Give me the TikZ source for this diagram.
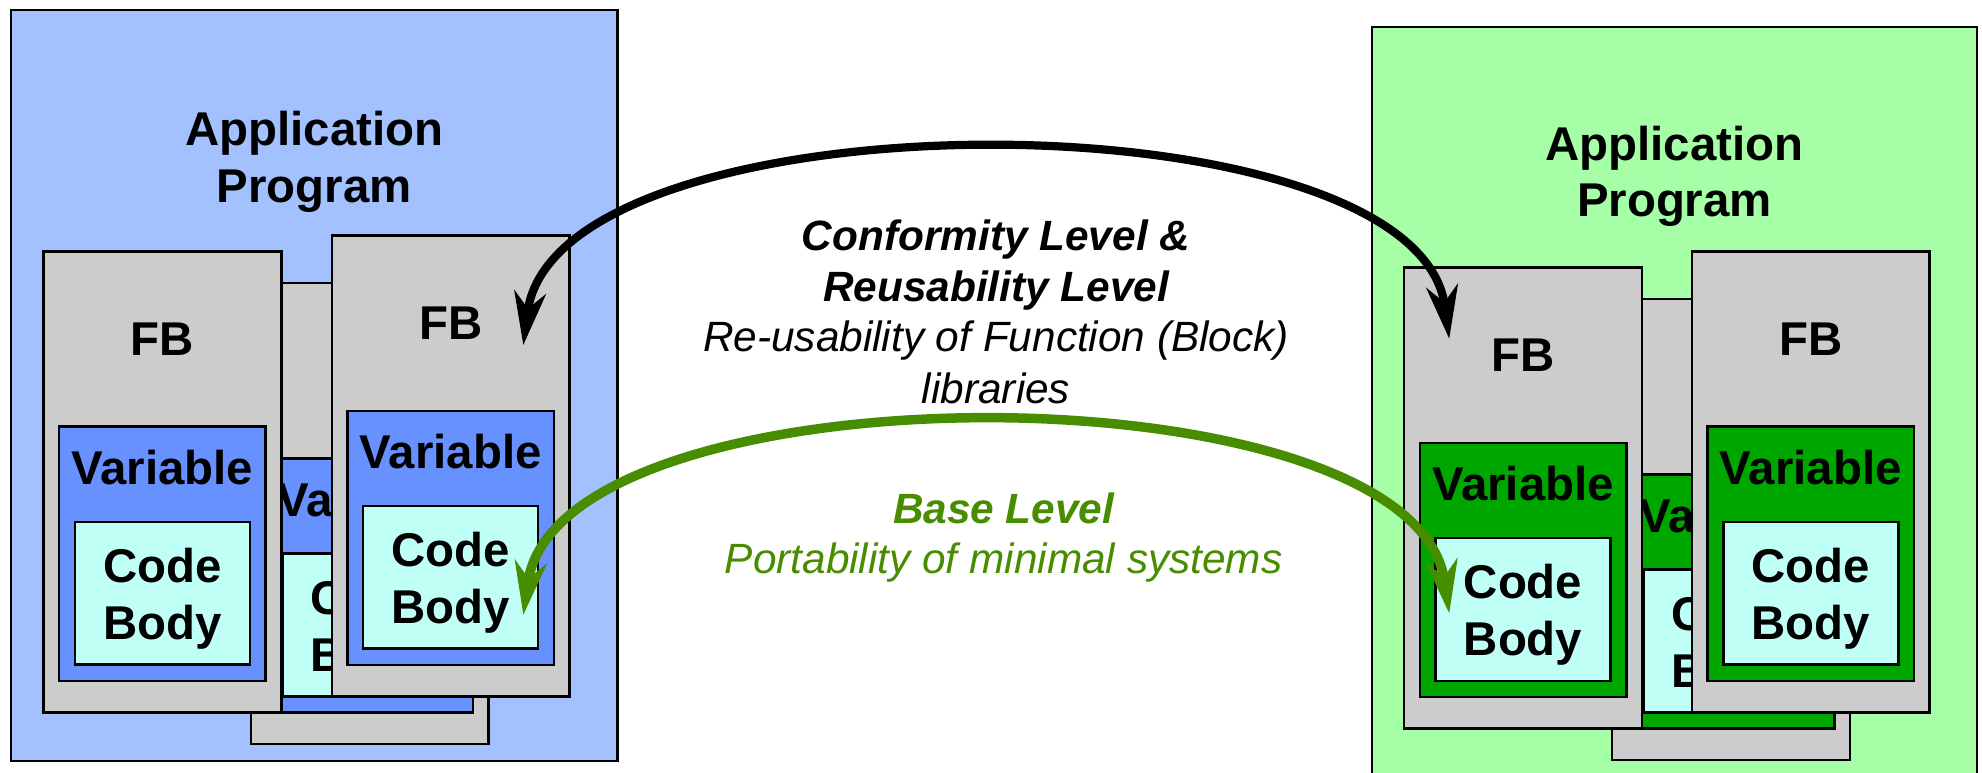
\documentclass[tikz,border=0pt]{standalone}
\usepackage{fontspec}
\setmainfont{Liberation Sans}
\usetikzlibrary{arrows.meta,calc}
\definecolor{bgblue}{RGB}{163,192,255}
\definecolor{varblue}{RGB}{102,145,255}
\definecolor{codecyan}{RGB}{192,255,246}
\definecolor{fbgray}{RGB}{204,204,204}
\definecolor{bggreen}{RGB}{166,255,166}
\definecolor{vargreen}{RGB}{0,166,0}
\definecolor{arrowgreen}{RGB}{72,140,0}
\tikzset{
  box/.style={draw=black, line width=2pt, inner sep=0pt, outer sep=0pt, anchor=north west},
  fbbox/.style={box, fill=fbgray, minimum width=188pt, minimum height=364.6pt},
  varbox/.style={box, minimum width=163.4pt, minimum height=201pt},
  codebox/.style={box, fill=codecyan, minimum width=138.4pt, minimum height=112.9pt},
  appbox/.style={draw=black, line width=1.8pt, inner sep=0pt, outer sep=0pt, anchor=north west},
  biglabel/.style={font=\bfseries\fontsize{37.5}{45}\selectfont, align=center, inner sep=0pt, anchor=base},
  midbold/.style={font=\bfseries\itshape\fontsize{33.5}{40.6}\selectfont, align=center, inner sep=0pt, anchor=base},
  midtext/.style={font=\itshape\fontsize{33.5}{40.6}\selectfont, align=center, inner sep=0pt, anchor=base},
  levelarrow/.style={line width=#1, {Stealth[length=42pt,width=25pt,inset=13pt]}-{Stealth[length=42pt,width=25pt,inset=13pt]}},
}
% boxes of one FB module: name, x, y, variable colour
\newcommand\fbboxes[4]{%
  \node[fbbox] (#1) at (#2,#3) {};
  \node[varbox, fill=#4] (#1v) at (#2+12.3,#3+138.6) {};
  \node[codebox] (#1c) at (#2+24.8,#3+213.9) {};
}
% labels of a fully visible FB module
\newcommand\fblabels[3]{%
  \node[biglabel] (#1t) at (#2+94,#3+82) {FB};
  \node[biglabel] (#1vt) at (#2+94,#3+184.3) {Variable};
  \node[biglabel] (#1ct) at (#2+94,#3+306.9) {Code\\Body};
}
% visible fragments of the labels of a hidden module
\newcommand\fbpartial[3]{%
  \node[biglabel, anchor=base west] (#1vt) at (#2+21.04,#3+184.3) {Va};
  \node[biglabel, anchor=base west] (#1ct) at (#2+47.1,#3+261.9) {C};
  \node[biglabel, anchor=base west] (#1bt) at (#2+47.1,#3+306.9) {B};
}
\begin{document}
\begin{tikzpicture}[x=1pt,y=-1pt]
\useasboundingbox (0,0) rectangle (1568,611.5);
\clip (0,0) rectangle (1568,611.5);
\fill[white] (0,0) rectangle (1568,611.5);
% left application program
\node[appbox, fill=bgblue, minimum width=479.8pt, minimum height=594.2pt] (appL) at (8.7,7.8) {};
\node[biglabel] (appLt) at (248.6,160) {Application\\Program};
\fbboxes{lm}{198.6}{224}{varblue}
\fbpartial{lm}{198.6}{224}
\fbboxes{ll}{34.5}{199}{varblue}
\fblabels{ll}{34.5}{199}
\fbboxes{lr}{262.5}{186.4}{varblue}
\fblabels{lr}{262.5}{186.4}
% right application program
\node[appbox, fill=bggreen, minimum width=478.7pt, minimum height=620pt] (appR) at (1085.3,21.5) {};
\node[biglabel] (appRt) at (1324.7,171.6) {Application\\Program};
\fbboxes{rm}{1275.4}{236.7}{vargreen}
\fbpartial{rm}{1275.4}{236.7}
\fbboxes{rl}{1110.9}{211.8}{vargreen}
\fblabels{rl}{1110.9}{211.8}
\fbboxes{rr}{1338.6}{199}{vargreen}
\fblabels{rr}{1338.6}{199}
% arrows
\coordinate (bL) at (414,273);
\coordinate (bR) at (1146.5,268);
\coordinate (gL) at (414,486.5);
\coordinate (gR) at (1146.5,485.3);
\draw[levelarrow=6.5pt, black] (bL) .. controls (440,71) and (1120,71) .. (bR);
\draw[levelarrow=7.5pt, arrowgreen] (gL) .. controls (442,287) and (1118,287) .. (gR);
% middle texts
\node[midbold] (conf) at (788,238.7) {Conformity Level \&\\Reusability Level};
\node[midtext] (reuse) at (788,319) {Re-usability of Function (Block)\\libraries};
\node[midbold, text=arrowgreen] (base) at (794,414) {Base Level};
\node[midtext, text=arrowgreen] (port) at (794,453.6) {Portability of minimal systems};
\end{tikzpicture}
\end{document}
